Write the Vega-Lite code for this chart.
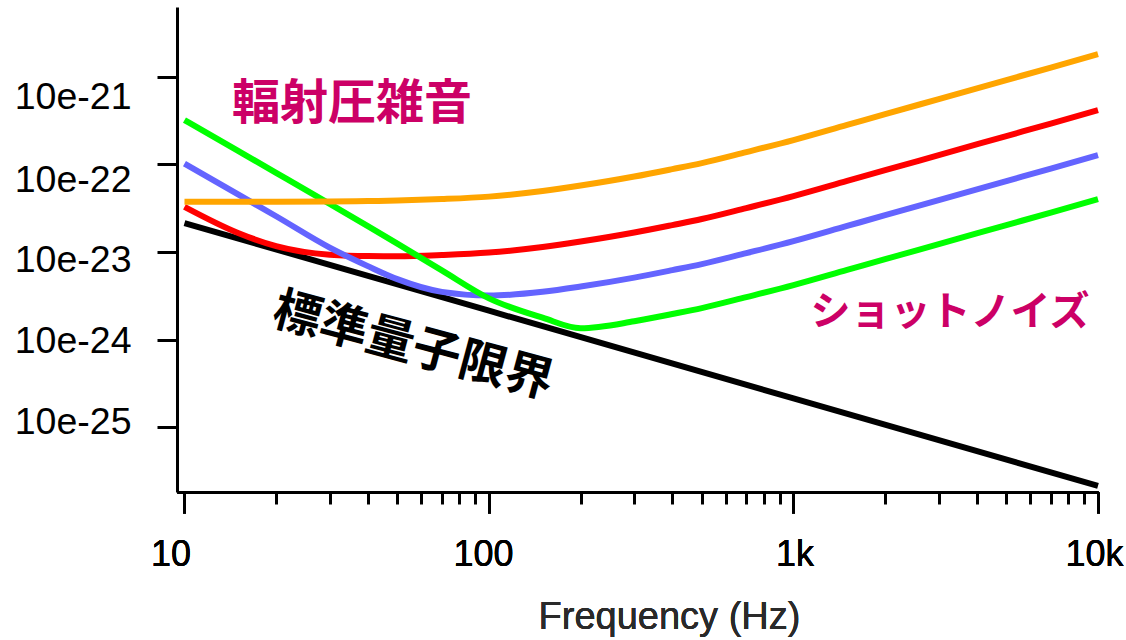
{
  "$schema": "https://vega.github.io/schema/vega-lite/v6.json",
  "autosize": {"type": "none"},
  "padding": {"left": 177, "top": 7, "right": 28, "bottom": 148},
  "width": 921,
  "height": 485,
  "background": "white",
  "config": {"view": {"stroke": null}},
  "datasets": {
    "curves": [
      {"s":"sql","f":10,"v":2.138e-23},{"s":"sql","f":100,"v":2.138e-24},{"s":"sql","f":1000,"v":2.138e-25},{"s":"sql","f":10000,"v":2.138e-26},
      {"s":"red","f":10,"v":3.273e-23},{"s":"red","f":15,"v":1.648e-23},{"s":"red","f":20,"v":1.167e-23},{"s":"red","f":30,"v":9.31e-24},{"s":"red","f":40,"v":8.974e-24},{"s":"red","f":50,"v":8.954e-24},{"s":"red","f":70,"v":9.247e-24},{"s":"red","f":100,"v":9.84e-24},{"s":"red","f":150,"v":1.138e-23},{"s":"red","f":200,"v":1.315e-23},{"s":"red","f":300,"v":1.667e-23},{"s":"red","f":400,"v":2.028e-23},{"s":"red","f":500,"v":2.377e-23},{"s":"red","f":700,"v":3.17e-23},{"s":"red","f":1000,"v":4.345e-23},{"s":"red","f":1500,"v":6.471e-23},{"s":"red","f":2000,"v":8.59e-23},{"s":"red","f":3000,"v":1.276e-22},{"s":"red","f":5000,"v":2.104e-22},{"s":"red","f":7000,"v":2.924e-22},{"s":"red","f":10000,"v":4.169e-22},
      {"s":"blue","f":10,"v":1.019e-22},{"s":"blue","f":15,"v":4.539e-23},{"s":"blue","f":20,"v":2.559e-23},{"s":"blue","f":30,"v":1.122e-23},{"s":"blue","f":40,"v":6.902e-24},{"s":"blue","f":50,"v":4.898e-24},{"s":"blue","f":70,"v":3.508e-24},{"s":"blue","f":100,"v":3.181e-24},{"s":"blue","f":150,"v":3.516e-24},{"s":"blue","f":200,"v":4.036e-24},{"s":"blue","f":300,"v":5.105e-24},{"s":"blue","f":400,"v":6.209e-24},{"s":"blue","f":500,"v":7.278e-24},{"s":"blue","f":700,"v":9.705e-24},{"s":"blue","f":1000,"v":1.33e-23},{"s":"blue","f":1500,"v":1.982e-23},{"s":"blue","f":2000,"v":2.63e-23},{"s":"blue","f":3000,"v":3.908e-23},{"s":"blue","f":5000,"v":6.442e-23},{"s":"blue","f":7000,"v":8.954e-23},{"s":"blue","f":10000,"v":1.276e-22},
      {"s":"green","f":10,"v":3.206e-22},{"s":"green","f":15,"v":1.426e-22},{"s":"green","f":20,"v":8.017e-23},{"s":"green","f":30,"v":3.548e-23},{"s":"green","f":40,"v":1.972e-23},{"s":"green","f":50,"v":1.245e-23},{"s":"green","f":70,"v":6.166e-24},{"s":"green","f":100,"v":2.958e-24},{"s":"green","f":150,"v":1.778e-24},{"s":"green","f":200,"v":1.349e-24},{"s":"green","f":300,"v":1.618e-24},{"s":"green","f":400,"v":1.959e-24},{"s":"green","f":500,"v":2.291e-24},{"s":"green","f":700,"v":3.055e-24},{"s":"green","f":1000,"v":4.188e-24},{"s":"green","f":1500,"v":6.237e-24},{"s":"green","f":2000,"v":8.279e-24},{"s":"green","f":3000,"v":1.23e-23},{"s":"green","f":5000,"v":2.028e-23},{"s":"green","f":7000,"v":2.818e-23},{"s":"green","f":10000,"v":4.018e-23},
      {"s":"orange","f":10,"v":3.741e-23},{"s":"orange","f":15,"v":3.741e-23},{"s":"orange","f":20,"v":3.741e-23},{"s":"orange","f":30,"v":3.758e-23},{"s":"orange","f":40,"v":3.811e-23},{"s":"orange","f":50,"v":3.864e-23},{"s":"orange","f":70,"v":4.018e-23},{"s":"orange","f":100,"v":4.285e-23},{"s":"orange","f":150,"v":4.955e-23},{"s":"orange","f":200,"v":5.728e-23},{"s":"orange","f":300,"v":7.261e-23},{"s":"orange","f":400,"v":8.831e-23},{"s":"orange","f":500,"v":1.035e-22},{"s":"orange","f":700,"v":1.38e-22},{"s":"orange","f":1000,"v":1.892e-22},{"s":"orange","f":1500,"v":2.818e-22},{"s":"orange","f":2000,"v":3.741e-22},{"s":"orange","f":3000,"v":5.559e-22},{"s":"orange","f":5000,"v":9.162e-22},{"s":"orange","f":7000,"v":1.274e-21},{"s":"orange","f":10000,"v":1.816e-21}
    ],
    "labels": [
      {"t":"輻射圧雑音","f":35.5,"v":4.75e-22},
      {"t":"ショットノイズ","f":3266,"v":2.009e-24},
      {"t":"標準量子限界","f":56.3,"v":8.11e-25}
    ]
  },
  "encoding": {
    "x": {
      "field": "f", "type": "quantitative",
      "scale": {"type": "log", "domain": [9.45, 10000], "nice": false},
      "axis": {
        "orient": "bottom",
        "values": [10, 100, 1000, 10000],
        "grid": false,
        "domainColor": "black", "domainWidth": 3,
        "tickColor": "black", "tickWidth": 3, "tickSize": 21,
        "labelFont": "Liberation Sans", "labelFontSize": 36, "labelColor": "black",
        "labelPadding": 24, "labelFlush": false, "labelOverlap": false, "labelBound": false,
        "labelExpr": "datum.value >= 1000 ? (round(datum.value/1000) + 'k') : ('' + round(datum.value))",
        "labelOffset": {"condition": [
          {"test": "datum.value < 50", "value": -14},
          {"test": "datum.value < 500", "value": -6},
          {"test": "datum.value < 5000", "value": 1}
        ], "value": -4},
        "title": "Frequency (Hz)",
        "titleFont": "Liberation Sans", "titleFontSize": 38, "titleFontWeight": "normal", "titleColor": "#2a2a2a",
        "titleX": 492, "titleY": 136, "titleBaseline": "alphabetic", "titleAlign": "center", "titleAnchor": null
      }
    },
    "y": {
      "field": "v", "type": "quantitative",
      "scale": {"type": "log", "domain": [1.824e-26, 6.252e-21], "nice": false},
      "axis": {
        "values": [1e-25, 1e-24, 1e-23, 1e-22, 1e-21],
        "grid": false,
        "domainColor": "black", "domainWidth": 3,
        "tickColor": "black", "tickWidth": 3, "tickSize": 20,
        "labelFont": "Liberation Sans", "labelFontSize": 37.5, "labelColor": "black",
        "labelPadding": 26, "labelBaseline": "middle", "labelFlush": false, "labelOverlap": false, "labelBound": false,
        "labelExpr": "'10e' + round(log(datum.value)/LN10)",
        "labelOffset": {"condition": [
          {"test": "datum.value > 5e-22", "value": 21},
          {"test": "datum.value > 5e-23", "value": 16},
          {"test": "datum.value > 5e-24", "value": 9},
          {"test": "datum.value > 5e-25", "value": 2}
        ], "value": -5},
        "title": null
      }
    }
  },
  "layer": [
    {
      "data": {"name": "curves"},
      "transform": [{"filter": "datum.s == 'sql'"}],
      "mark": {"type": "line", "color": "black", "strokeWidth": 6},
      "encoding": {
        "x": {
          "field": "f", "type": "quantitative",
          "scale": {"type": "log", "domain": [9.45, 10000], "nice": false},
          "axis": {
            "orient": "bottom",
            "values": [20,30,40,50,60,70,80,90,200,300,400,500,600,700,800,900,2000,3000,4000,5000,6000,7000,8000,9000],
            "grid": false, "domain": false, "labels": false, "title": null,
            "tickColor": "black", "tickWidth": 3, "tickSize": 12
          }
        }
      }
    },
    {
      "data": {"name": "curves"},
      "transform": [{"filter": "datum.s != 'sql'"}],
      "mark": {"type": "line", "strokeWidth": 6, "interpolate": "monotone"},
      "encoding": {
        "color": {
          "field": "s", "type": "nominal", "legend": null,
          "scale": {"domain": ["red", "blue", "green", "orange"], "range": ["#FF0000", "#6464FF", "#00FF00", "#FFA500"]}
        }
      }
    },
    {
      "data": {"name": "labels"},
      "transform": [{"filter": "datum.t == '輻射圧雑音'"}],
      "mark": {"type": "text", "font": "Noto Sans CJK JP", "fontWeight": "bold", "fontSize": 48, "color": "#CC0066", "align": "center", "baseline": "middle"},
      "encoding": {"text": {"field": "t"}}
    },
    {
      "data": {"name": "labels"},
      "transform": [{"filter": "datum.t == 'ショットノイズ'"}],
      "mark": {"type": "text", "font": "Noto Sans CJK JP", "fontWeight": "bold", "fontSize": 40, "color": "#CC0066", "align": "center", "baseline": "middle"},
      "encoding": {"text": {"field": "t"}}
    },
    {
      "data": {"name": "labels"},
      "transform": [{"filter": "datum.t == '標準量子限界'"}],
      "mark": {"type": "text", "font": "Noto Sans CJK JP", "fontWeight": "bold", "fontSize": 48, "color": "black", "align": "center", "baseline": "middle", "angle": 15},
      "encoding": {"text": {"field": "t"}}
    }
  ],
  "resolve": {"axis": {"x": "independent"}}
}
